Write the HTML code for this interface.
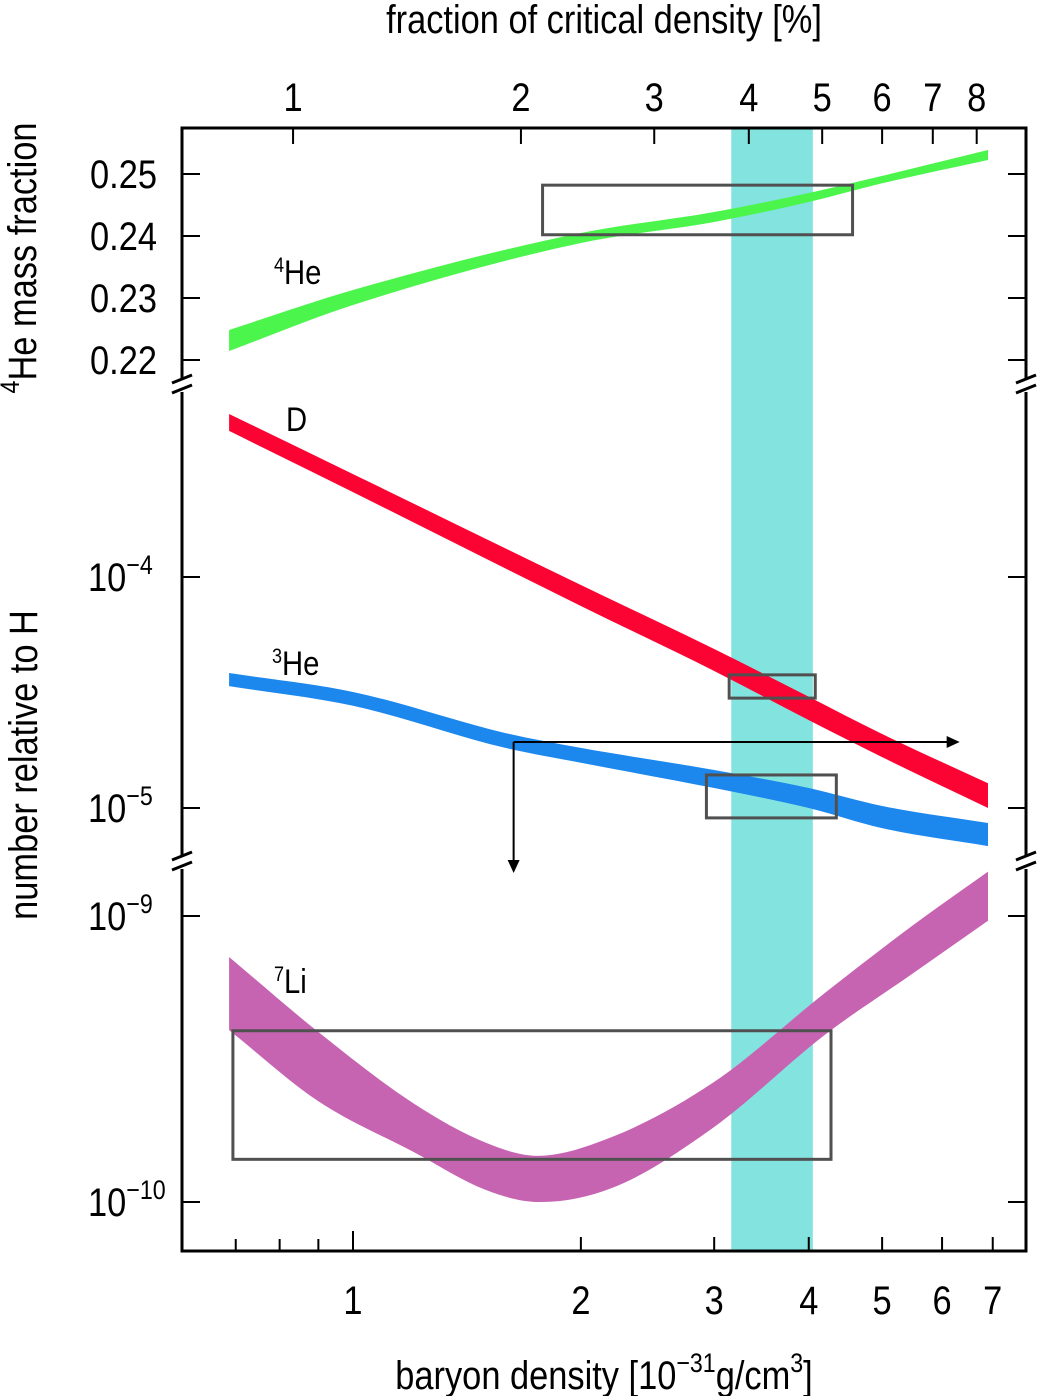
<!DOCTYPE html>
<html><head><meta charset="utf-8"><style>
html,body{margin:0;padding:0;background:#fff;}
svg{display:block;}
text{font-family:"Liberation Sans Narrow","Liberation Sans",sans-serif;fill:#000;}
</style></head><body>
<svg id="chart" width="1038" height="1396" viewBox="0 0 1038 1396" xmlns="http://www.w3.org/2000/svg"></svg>
<script>
// ---- data ----
const heX = [0.686, 1, 2, 3, 4, 5, 6.9];
const heHi = [0.22484, 0.23129, 0.24048, 0.24387, 0.24694, 0.2497, 0.25387];
const heLo = [0.22145, 0.22887, 0.23887, 0.24226, 0.24548, 0.2485, 0.25226];
const dX = [0.686, 1, 2, 3, 4, 5, 6.9];
const dHi = [5.08e-4, 2.79e-4, 9.23e-5, 4.88e-5, 3.03e-5, 2.09e-5, 1.28e-5];
const dLo = [4.29e-4, 2.33e-4, 7.49e-5, 3.92e-5, 2.40e-5, 1.66e-5, 1.0e-5];
const he3X = [0.686, 1, 1.59, 2, 3, 4, 5, 6.9];
const he3Hi = [3.84e-5, 3.18e-5, 2.11e-5, 1.82e-5, 1.46e-5, 1.22e-5, 1.02e-5, 8.61e-6];
const he3Lo = [3.37e-5, 2.77e-5, 1.82e-5, 1.57e-5, 1.22e-5, 1.0e-5, 8.18e-6, 6.84e-6];
const liX = [0.686, 0.9, 1.2, 1.5, 1.75, 2.2, 3.0, 4.2, 5.5, 6.9];
const liHi = [7.19e-10, 3.93e-10, 2.22e-10, 1.61e-10, 1.45e-10, 1.69e-10, 2.63e-10, 5.38e-10, 9.31e-10, 1.43e-9];
const liLo = [3.99e-10, 2.25e-10, 1.50e-10, 1.10e-10, 1.0e-10, 1.12e-10, 1.83e-10, 3.84e-10, 6.32e-10, 9.62e-10];
const bottomTicks = [1, 2, 3, 4, 5, 6, 7];
const bottomMinor = [0.7, 0.8, 0.9];
const topTicks = [1, 2, 3, 4, 5, 6, 7, 8];
const heTicks = [0.22, 0.23, 0.24, 0.25];
const wmapBand = [3.16, 4.05];
const heBox = [1.78, 4.57, 0.2402, 0.2482];
const dBox = [3.14, 4.08, 2.99e-5, 3.77e-5];
const he3Box = [2.93, 4.35, 9.06e-6, 1.39e-5];
const liBox = [0.694, 4.28, 1.41e-10, 3.97e-10];
const pctPerUnit = 1.2;

// ---- scales ----
const L = 182, R = 1026, T = 128, B = 1251;
const X = v => 353 + 757 * Math.log10(v);
const Xpct = p => X(p / pctPerUnit);
const Yhe = v => 174 + (0.25 - v) * 6200;
const Ymid = v => 577 - 231 * (Math.log10(v) + 4);
const Yli = v => 916 - 286 * (Math.log10(v) + 9);
const SX = 0.86;

const svg = document.getElementById('chart');
const NS = 'http://www.w3.org/2000/svg';
function mk(tag, attrs, parent) {
  const e = document.createElementNS(NS, tag);
  for (const k in attrs) e.setAttribute(k, attrs[k]);
  (parent || svg).appendChild(e);
  return e;
}
function slopes(pts) {
  const n = pts.length, sec = [];
  for (let i = 0; i < n - 1; i++) sec.push((pts[i + 1][1] - pts[i][1]) / (pts[i + 1][0] - pts[i][0]));
  return pts.map((p, i) => i === 0 ? sec[0] : i === n - 1 ? sec[n - 2] : (sec[i - 1] + sec[i]) / 2);
}
function band(xs, hi, lo, Y, color, name) {
  const up = xs.map((x, i) => [X(x), Y(hi[i])]);
  const dn = xs.map((x, i) => [X(x), Y(lo[i])]);
  const mu = slopes(up), md = slopes(dn), n = up.length;
  let d = 'M' + up[0][0] + ',' + up[0][1];
  for (let i = 0; i < n - 1; i++) {
    const p1 = up[i], p2 = up[i + 1], h = (p2[0] - p1[0]) / 3;
    d += ' C' + (p1[0] + h) + ',' + (p1[1] + mu[i] * h) + ' ' + (p2[0] - h) + ',' + (p2[1] - mu[i + 1] * h) + ' ' + p2[0] + ',' + p2[1];
  }
  d += ' L' + dn[n - 1][0] + ',' + dn[n - 1][1];
  for (let i = n - 1; i > 0; i--) {
    const p2 = dn[i], p1 = dn[i - 1], h = (p2[0] - p1[0]) / 3;
    d += ' C' + (p2[0] - h) + ',' + (p2[1] - md[i] * h) + ' ' + (p1[0] + h) + ',' + (p1[1] + md[i - 1] * h) + ' ' + p1[0] + ',' + p1[1];
  }
  const p = mk('path', {d: d + ' Z', fill: color});
  
  
}
function box(b, Y, name) {
  const x1 = X(b[0]), x2 = X(b[1]), y1 = Y(b[3]), y2 = Y(b[2]);
  const r = mk('rect', {x: x1, y: y1, width: x2 - x1, height: y2 - y1, fill: 'none', stroke: '#505050', 'stroke-width': 3});
  
  
}
function txt(x, y, s, attrs, name) {
  const t = mk('text', Object.assign({x: 0, y: 0, transform: `translate(${x},${y}) scale(${SX},1)`}, attrs || {}));
  t.textContent = s;
  
  
  return t;
}

// cyan band
const wb = mk('rect', {x: X(wmapBand[0]), y: T, width: X(wmapBand[1]) - X(wmapBand[0]), height: B - T, fill: '#83e3df'});



band(heX, heHi, heLo, Yhe, '#4cf54c', 'he4-band');
band(dX, dHi, dLo, Ymid, '#fb0434', 'deuterium-band');
band(he3X, he3Hi, he3Lo, Ymid, '#1c88ee', 'he3-band');
band(liX, liHi, liLo, Yli, '#c664b2', 'li7-band');

box(heBox, Yhe, 'he4-observation-box');
box(dBox, Ymid, 'deuterium-observation-box');
box(he3Box, Ymid, 'he3-observation-box');
box(liBox, Yli, 'li7-observation-box');

// arrows
const ay = 742, ax = X(1.63);
const a1 = mk('path', {d: `M${ax},${ay} H${X(6.33) - 12} M${ax},${ay} V${860}`, stroke: '#000', 'stroke-width': 2, fill: 'none'});


const ah1 = mk('path', {d: `M${X(6.33)},${ay} l-13,-6 v12 z M${ax},873 l-6,-13 h12 z`, fill: '#000'});



// frame with breaks
const fr = mk('path', {d: `M${L},378 V${T} H${R} V378 M${R},392 V856 M${R},869 V${B} H${L} V869 M${L},856 V392`, stroke: '#000', 'stroke-width': 3, fill: 'none'});


[[L, 385], [R, 385], [L, 862], [R, 862]].forEach(([x, y]) => {
  const s = mk('path', {d: `M${x - 10},${y - 2} l20,-8 M${x - 10},${y + 8} l20,-8`, stroke: '#000', 'stroke-width': 3});
  
  
});

// ticks
let tk = '';
heTicks.forEach(v => { tk += `M${L},${Yhe(v)} h18 M${R},${Yhe(v)} h-18 `; });
[1e-4, 1e-5].forEach(v => { tk += `M${L},${Ymid(v)} h18 M${R},${Ymid(v)} h-18 `; });
[1e-9, 1e-10].forEach(v => { tk += `M${L},${Yli(v)} h18 M${R},${Yli(v)} h-18 `; });
bottomTicks.forEach(v => { tk += `M${X(v)},${B} v-${v === 1 ? 20 : 14} `; });
bottomMinor.forEach(v => { tk += `M${X(v)},${B} v-12 `; });
topTicks.forEach(v => { tk += `M${Xpct(v)},${T} v16 `; });
const tks = mk('path', {d: tk, stroke: '#000', 'stroke-width': 2, fill: 'none'});



// tick labels
bottomTicks.forEach(v => txt(X(v), 1314, String(v), {'font-size': 40, 'text-anchor': 'middle'}, 'x-tick-label'));
topTicks.forEach(v => txt(Xpct(v), 111, String(v), {'font-size': 40, 'text-anchor': 'middle'}, 'top-tick-label'));
heTicks.forEach(v => txt(157, Yhe(v) + 14, v.toFixed(2), {'font-size': 40, 'text-anchor': 'end'}, 'he-tick-label'));
function powLabel(y, exp, name) {
  const t = txt(88, y + 14, '10', {'font-size': 40}, name);
  const s = mk('tspan', {dy: -17, 'font-size': 27}, t);
  s.textContent = '\u2212' + exp;
}
powLabel(Ymid(1e-4), 4, 'y-tick-label-1e-4');
powLabel(Ymid(1e-5), 5, 'y-tick-label-1e-5');
powLabel(Yli(1e-9), 9, 'y-tick-label-1e-9');
powLabel(Yli(1e-10), 10, 'y-tick-label-1e-10');

// series labels
function supLabel(x, y, sup, main, name) {
  const t = txt(x, y, '', {'font-size': 34}, name);
  const a = mk('tspan', {'font-size': 21, dy: -12}, t); a.textContent = sup;
  const b = mk('tspan', {dy: 12}, t); b.textContent = main;
}
supLabel(274, 284, '4', 'He', 'he4-label');
txt(286, 431, 'D', {'font-size': 34}, 'deuterium-label');
supLabel(272, 675, '3', 'He', 'he3-label');
supLabel(274, 993, '7', 'Li', 'li7-label');

// axis titles
txt(604, 33, 'fraction of critical density [%]', {'font-size': 40, 'text-anchor': 'middle'}, 'top-axis-title');
const bt = txt(604, 1389, 'baryon density [10', {'font-size': 40, 'text-anchor': 'middle'}, 'x-axis-title');
const b1 = mk('tspan', {dy: -17, 'font-size': 27}, bt); b1.textContent = '\u221231';
const b2 = mk('tspan', {dy: 17}, bt); b2.textContent = 'g/cm';
const b3 = mk('tspan', {dy: -17, 'font-size': 27}, bt); b3.textContent = '3';
const b4 = mk('tspan', {dy: 17}, bt); b4.textContent = ']';
const yt1 = mk('text', {x: 0, y: 0, 'font-size': 40, 'text-anchor': 'middle', transform: 'translate(36,258) rotate(-90) scale(0.86,1)'});


const y1a = mk('tspan', {'font-size': 27, dy: -17}, yt1); y1a.textContent = '4';
const y1b = mk('tspan', {dy: 17}, yt1); y1b.textContent = 'He mass fraction';
const yt2 = mk('text', {x: 0, y: 0, 'font-size': 40, 'text-anchor': 'middle', transform: 'translate(37,765) rotate(-90) scale(0.86,1)'});
yt2.textContent = 'number relative to H';


</script>
</body></html>
